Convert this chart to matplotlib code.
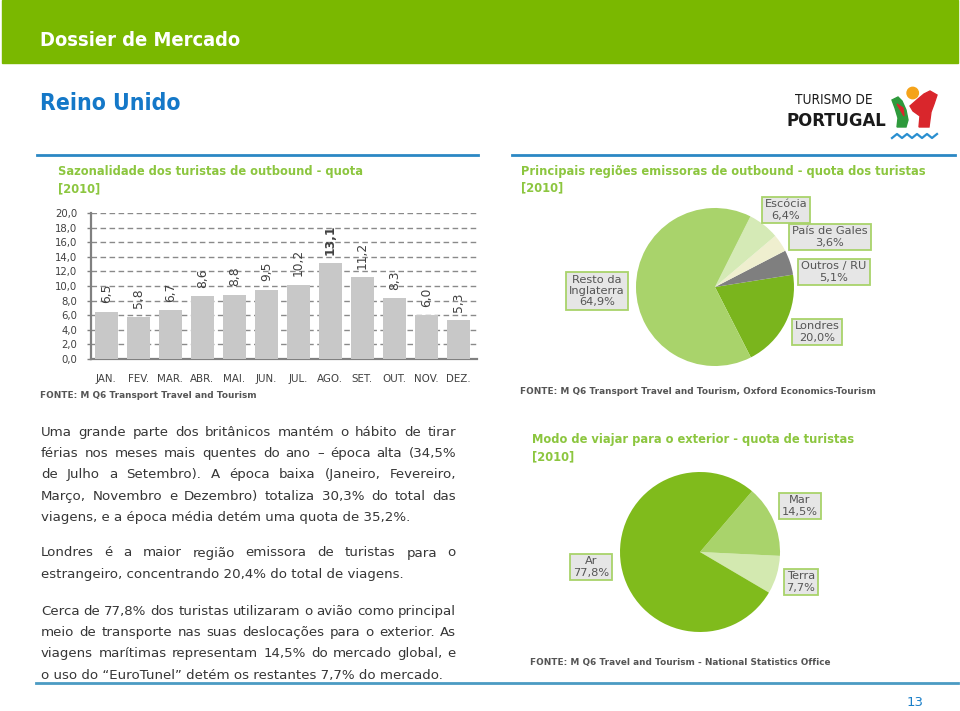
import matplotlib
matplotlib.use("Agg")
import matplotlib.pyplot as plt
from matplotlib.patches import Rectangle, Circle, Polygon

W, H = 960, 711

# seasonality (share of outbound trips per month, %)
months = ["JAN.", "FEV.", "MAR.", "ABR.", "MAI.", "JUN.", "JUL.", "AGO.", "SET.", "OUT.", "NOV.", "DEZ."]
month_share = [6.5, 5.8, 6.7, 8.6, 8.8, 9.5, 10.2, 13.1, 11.2, 8.3, 6.0, 5.3]

# outbound regions (%), counter-clockwise from Londres
regions = ["Londres", "Outros / RU", "País de Gales", "Escócia", "Resto da\nInglaterra"]
region_share = [20.0, 5.1, 3.6, 6.4, 64.9]
region_colors = ["#7ab51d", "#7f7f7f", "#efefcf", "#d5eab6", "#a9d36b"]

# travel mode (%), counter-clockwise from Terra
modes = ["Terra", "Mar", "Ar"]
mode_share = [7.7, 14.5, 77.8]
mode_colors = ["#d3e9b0", "#a9d36b", "#80bb1c"]

GREEN_T = "#8cc63f"
BLUE = "#2b88c4"
TXT = "#363636"


def fbox(x0, y0, w, h):
    return [x0 / W, 1 - (y0 + h) / H, w / W, h / H]


def fmt(v):
    return f"{v:.1f}".replace(".", ",")


fig = plt.figure(figsize=(W / 100, H / 100), dpi=100)
fig.patch.set_facecolor("white")

# ---- bar chart: seasonality
ax = fig.add_axes(fbox(91, 213, 386, 146))
x = range(len(months))
ax.bar(x, month_share, width=0.72, color="#c8c8c8", zorder=3)
ax.set_ylim(0, 20)
ax.set_xlim(-0.48, 11.58)
ax.set_yticks(range(0, 21, 2))
ax.set_yticklabels([fmt(v) for v in range(0, 21, 2)], fontsize=7.3, color="#404040")
ax.set_xticks(list(x))
ax.set_xticklabels(months, fontsize=7.4, color="#404040")
ax.tick_params(axis="x", length=0, pad=11)
ax.tick_params(axis="y", length=3, width=1, color="#808080", pad=7)
ax.grid(axis="y", color="#8a8a8a", linestyle=(0, (4, 2.5)), linewidth=1, zorder=0)
for s in ["top", "right"]:
    ax.spines[s].set_visible(False)
ax.spines["left"].set_color("#808080")
ax.spines["left"].set_linewidth(1.6)
ax.spines["bottom"].set_color("#808080")
ax.spines["bottom"].set_linewidth(1.6)
for i, v in enumerate(month_share):
    ax.annotate(fmt(v), (i, v), xytext=(0, 6), textcoords="offset points",
                rotation=90, ha="center", va="bottom", fontsize=8.8, color="#404040",
                fontweight="bold" if v == max(month_share) else "normal")

# ---- pie: regions
ap = fig.add_axes(fbox(715 - 79, 287 - 79, 158, 158))
ap.pie(region_share, colors=region_colors, startangle=-63, counterclock=True,
       wedgeprops=dict(linewidth=0))
ap.set_xlim(-1, 1)
ap.set_ylim(-1, 1)
ap.set_aspect("equal")

# ---- pie: travel mode
am = fig.add_axes(fbox(700 - 80, 552 - 80, 160, 160))
am.pie(mode_share, colors=mode_colors, startangle=-30.5, counterclock=True,
       wedgeprops=dict(linewidth=0))
am.set_xlim(-1, 1)
am.set_ylim(-1, 1)
am.set_aspect("equal")

# ---- page overlay (pixel coordinates)
ov = fig.add_axes([0, 0, 1, 1], zorder=10)
ov.set_xlim(0, W)
ov.set_ylim(H, 0)
ov.axis("off")

ov.add_patch(Rectangle((2, 0), 956, 63, color="#7ab800", zorder=0))
ov.text(40, 41, "Dossier de Mercado", fontsize=14.4, fontweight="bold", color="white",
        va="center", fontstretch="condensed")
ov.text(40, 103, "Reino Unido", fontsize=16.5, fontweight="bold", color="#1478c8",
        va="center", fontstretch="condensed")

# logo
ov.text(795, 100, "TURISMO DE", fontsize=9.8, color="#1a1a1a", va="center", fontstretch="condensed")
ov.text(786, 121, "PORTUGAL", fontsize=13.2, fontweight="bold", color="#1a1a1a", va="center",
        fontstretch="condensed")
ov.add_patch(Polygon([(892, 100), (898, 97), (902, 101), (906, 110), (908, 120), (906, 127),
                      (897, 127), (898, 118), (895, 108)], color="#2e9a3c"))
ov.add_patch(Polygon([(897, 104), (903, 108), (904, 116)], color="#d9262c"))
ov.add_patch(Polygon([(910, 106), (918, 99), (924, 94), (930, 91), (937, 95), (934, 104),
                      (931, 112), (929, 127), (919, 127), (920, 116), (913, 111)], color="#d9262c"))
ov.add_patch(Circle((912.7, 93), 5.7, color="#f5a31a"))
ov.plot([892, 897, 902, 907, 912, 917, 922, 927, 932, 937], [138, 134, 138, 134, 138, 134, 138, 134, 138, 134],
        color="#2a8fd0", lw=1.6)

# panel rules
ov.plot([37, 478], [155, 155], color=BLUE, lw=2)
ov.plot([512, 955], [155, 155], color=BLUE, lw=2)
ov.plot([36, 958], [683, 683], color="#4b9bc3", lw=2)

# chart titles
tkw = dict(fontsize=8.3, fontweight="bold", color=GREEN_T, va="center")
ov.text(58, 172, "Sazonalidade dos turistas de outbound - quota", **tkw)
ov.text(58, 189, "[2010]", **tkw)
ov.text(521, 171, "Principais regiões emissoras de outbound - quota dos turistas", **tkw)
ov.text(521, 188, "[2010]", **tkw)
ov.text(532, 440, "Modo de viajar para o exterior - quota de turistas", **tkw)
ov.text(532, 457, "[2010]", **tkw)

# sources
src_kw = dict(fontsize=6.4, fontweight="bold", color="#555555", va="center")
ov.text(40, 395, "FONTE: M Q6 Transport Travel and Tourism", **src_kw)
ov.text(520, 391, "FONTE: M Q6 Transport Travel and Tourism, Oxford Economics-Tourism", **src_kw)
ov.text(530, 663, "FONTE: M Q6 Travel and Tourism - National Statistics Office", **src_kw)

# pie labels
box = dict(boxstyle="square,pad=0.25", facecolor="#e6e6e6", edgecolor="#a9d36b", linewidth=1.3)
lab_kw = dict(fontsize=8.2, color="#555555", ha="center", va="center", linespacing=1.15, bbox=box)
region_pos = [(817, 332), (834, 272), (830, 237), (786, 210), (597, 291)]
for name, v, (px, py) in zip(regions, region_share, region_pos):
    ov.text(px, py, f"{name}\n{fmt(v)}%", **lab_kw)
mode_pos = [(801, 582), (800, 506), (591, 567)]
for name, v, (px, py) in zip(modes, mode_share, mode_pos):
    ov.text(px, py, f"{name}\n{fmt(v)}%", **lab_kw)

# body text, justified
paragraphs = [
    ([
        "Uma grande parte dos britânicos mantém o hábito de tirar",
        "férias nos meses mais quentes do ano – época alta (34,5%",
        "de Julho a Setembro). A época baixa (Janeiro, Fevereiro,",
        "Março, Novembro e Dezembro) totaliza 30,3% do total das",
        "viagens, e a época média detém uma quota de 35,2%.",
    ], 432.5),
    ([
        "Londres é a maior região emissora de turistas para o",
        "estrangeiro, concentrando 20,4% do total de viagens.",
    ], 553),
    ([
        "Cerca de 77,8% dos turistas utilizaram o avião como principal",
        "meio de transporte nas suas deslocações para o exterior. As",
        "viagens marítimas representam 14,5% do mercado global, e",
        "o uso do “EuroTunel” detém os restantes 7,7% do mercado.",
    ], 611.5),
]
body_kw = dict(fontsize=9.65, color=TXT, va="center")
renderer = fig.canvas.get_renderer()
x0, x1, step = 41, 456, 21.2
for lines, y0 in paragraphs:
    for k, line in enumerate(lines):
        y = y0 + k * step
        if k == len(lines) - 1:
            ov.text(x0, y, line, **body_kw)
            continue
        words = line.split(" ")
        ts = [ov.text(0, y, w, **body_kw) for w in words]
        ws = [t.get_window_extent(renderer).width for t in ts]
        gap = (x1 - x0 - sum(ws)) / (len(words) - 1)
        xp = x0
        for t, w in zip(ts, ws):
            t.set_x(xp)
            xp += w + gap

ov.text(915, 702, "13", fontsize=9.5, color="#1a7fc8", ha="center", va="center")

fig.savefig("out.png", dpi=100)
